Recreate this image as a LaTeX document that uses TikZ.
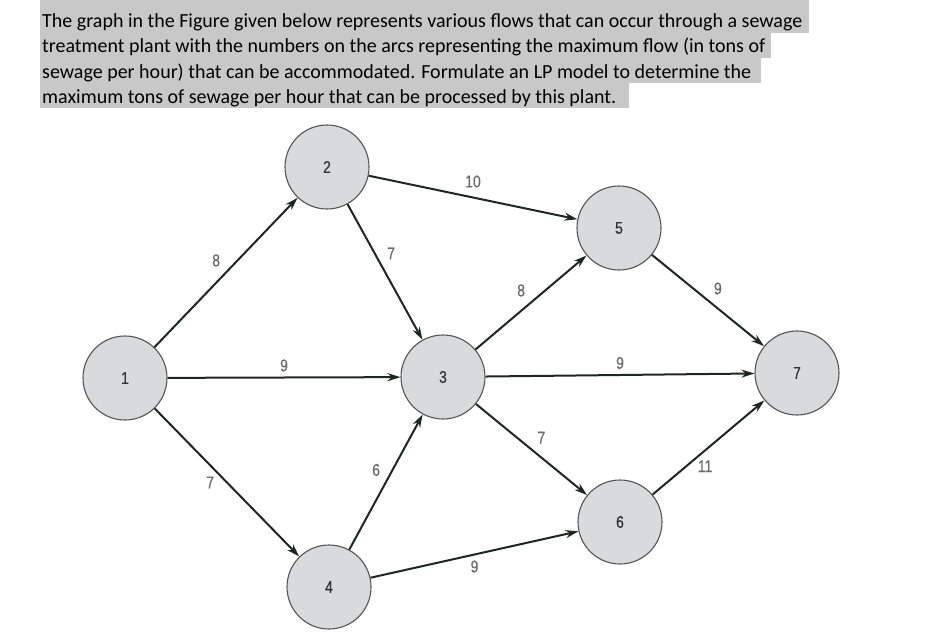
\documentclass[tikz,border=0pt]{standalone}
\usepackage{fontspec}
\setmainfont{Carlito}
\newfontfamily\etiq[FakeStretch=0.82,FakeBold=0.6]{Liberation Sans}
\usetikzlibrary{arrows.meta}
\definecolor{surlign}{HTML}{C8C8C8}
\definecolor{disque}{HTML}{D8DADC}
\definecolor{bord}{HTML}{555555}
\definecolor{trait}{HTML}{1E2621}
\definecolor{chiffre}{HTML}{6A6A6A}
\tikzset{
  sommet/.style={circle, minimum size=84pt, inner sep=0pt, fill=disque, draw=bord,
    line width=1.1pt, text=black!80, font=\etiq\fontsize{17}{17}\selectfont},
  fleche/.style={-{Stealth[length=13pt,width=8pt]}, line width=2pt, draw=trait},
  capa/.style={text=chiffre, font=\etiq\fontsize{17}{17}\selectfont, inner sep=5pt},
  ligne/.style={anchor=base west, inner sep=0pt, font=\fontsize{20}{24}\selectfont}
}
\begin{document}
\begin{tikzpicture}[x=1pt,y=-1pt]
    \useasboundingbox (0,0) rectangle (938,634);

    % Texte surligne en haut
    \fill[surlign] (40,0) rectangle (809,33);
    \fill[surlign] (40,33) rectangle (771,58);
    \fill[surlign] (40,58) rectangle (761,83);
    \fill[surlign] (40,83) rectangle (629,108);
    \node[ligne] (l1) at (42,28) {The graph in the Figure given below represents various flows that can occur through a sewage};
    \node[ligne] (l2) at (42,53) {treatment plant with the numbers on the arcs representing the maximum flow (in tons of};
    \node[ligne] (l3) at (42,78) {sewage per hour) that can be accommodated. Formulate an LP model to determine the};
    \node[ligne] (l4) at (42,103) {maximum tons of sewage per hour that can be processed by this plant.};

    % Les sommets du reseau
    \foreach \n/\x/\y in {1/125/378, 2/327/167, 3/443/377, 4/329/587, 5/619/228, 6/620/522, 7/797/373}
        \node[sommet] (n\n) at (\x,\y) {\n};

    % Les arcs avec leurs capacites
    \draw[fleche] (n1) -- node[capa, above left] {8} (n2);
    \draw[fleche] (n1) -- node[capa, above] {9} (n3);
    \draw[fleche] (n1) -- node[capa, left, inner sep=12pt] {7} (n4);
    \draw[fleche] (n2) -- node[capa, above right, pos=0.45] {7} (n3);
    \draw[fleche] (n2) -- node[capa, above, inner sep=9pt] {10} (n5);
    \draw[fleche] (n4) -- node[capa, above left] {6} (n3);
    \draw[fleche] (n3) -- node[capa, above left] {8} (n5);
    \draw[fleche] (n3) -- node[capa, above] {9} (n7);
    \draw[fleche] (n3) -- node[capa, above right] {7} (n6);
    \draw[fleche] (n4) -- node[capa, below] {9} (n6);
    \draw[fleche] (n5) -- node[capa, above right] {9} (n7);
    \draw[fleche] (n6) -- node[capa, below, inner sep=9pt, pos=0.47] {11} (n7);
\end{tikzpicture}
\end{document}
